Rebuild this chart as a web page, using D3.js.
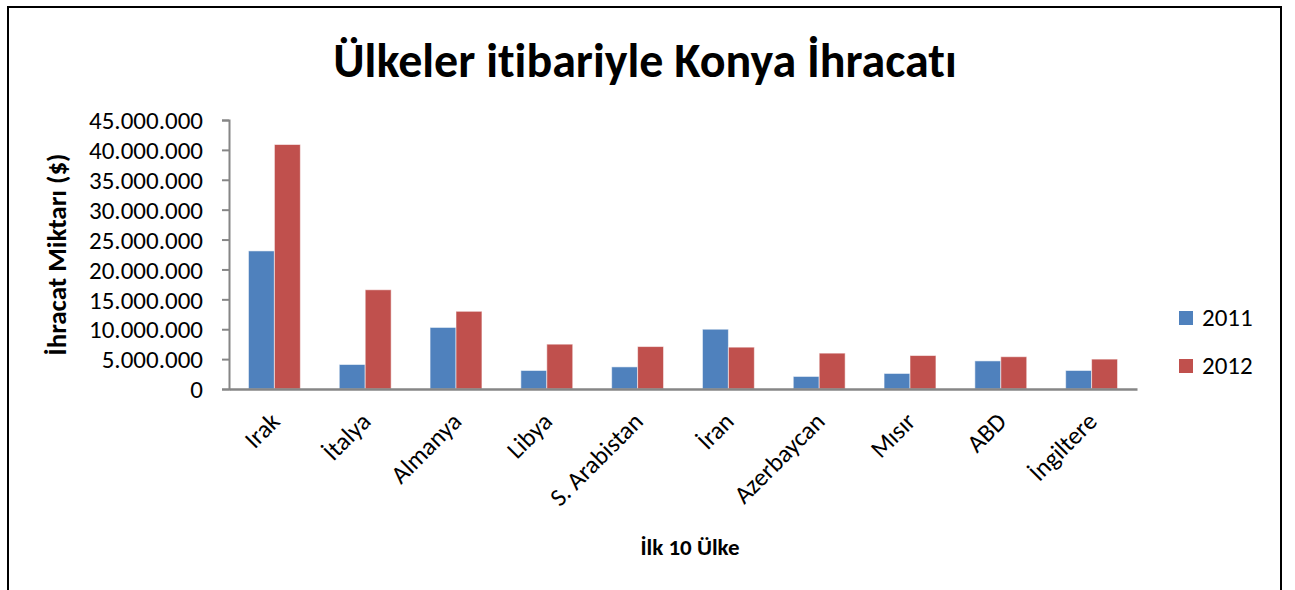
<!DOCTYPE html>
<html>
<head>
<meta charset="utf-8">
<script src="https://cdn.jsdelivr.net/npm/d3@7"></script>
<style>
  html, body { margin: 0; padding: 0; background: #fff; }
  svg { display: block; }
  text { font-family: Carlito, Lato, "Open Sans", sans-serif; fill: #000; font-variant-ligatures: none; font-feature-settings: "liga" 0; }
</style>
</head>
<body>
<svg id="chart" width="1295" height="590"></svg>
<script>
const categories = ["Irak", "İtalya", "Almanya", "Libya", "S. Arabistan", "İran", "Azerbaycan", "Mısır", "ABD", "İngiltere"];
const seriesNames = ["2011", "2012"];
const values2011 = [23100000, 4100000, 10300000, 3100000, 3700000, 10000000, 2100000, 2600000, 4700000, 3100000];
const values2012 = [40900000, 16600000, 13000000, 7500000, 7100000, 7000000, 6000000, 5600000, 5400000, 5000000];
const yTicks = [0, 5000000, 10000000, 15000000, 20000000, 25000000, 30000000, 35000000, 40000000, 45000000];
const colors = ["#4F81BD", "#C0504D"];
const titleText = "Ülkeler itibariyle Konya İhracatı";
const yTitle = "İhracat Miktarı ($)";
const xTitle = "İlk 10 Ülke";

const svg = d3.select("#chart");

// outer frame
svg.append("rect").attr("x", 8).attr("y", 7).attr("width", 1273).attr("height", 600)
  .attr("fill", "none").attr("stroke", "#000").attr("stroke-width", 2);

const plotLeft = 229, plotRight = 1137, plotTop = 120, plotBottom = 389;

const x = d3.scaleBand().domain(categories).range([plotLeft, plotRight]).paddingInner(0).paddingOuter(0);
const x1 = d3.scaleBand().domain(seriesNames).range([0, x.bandwidth()]).paddingInner(0).paddingOuter(0.75);
const y = d3.scaleLinear().domain([0, 45000000]).range([plotBottom, plotTop]);

const tr = d3.formatLocale({decimal: ",", thousands: ".", grouping: [3], currency: ["", "$"]});
const fmt = tr.format(",d");

// bars
const rows = categories.map((c, i) => ({cat: c, vals: [values2011[i], values2012[i]]}));
const g = svg.append("g");
rows.forEach(r => {
  r.vals.forEach((v, si) => {
    g.append("rect")
      .attr("x", x(r.cat) + x1(seriesNames[si]))
      .attr("y", y(v))
      .attr("width", x1.bandwidth())
      .attr("height", y(0) - y(v))
      .attr("fill", colors[si])
      .attr("stroke", "rgba(255,255,255,0.55)")
      .attr("stroke-width", 1);
  });
});

// y axis
const yAxis = d3.axisLeft(y).tickValues(yTicks).tickFormat(fmt).tickSize(7).tickPadding(19);
const ya = svg.append("g").attr("transform", `translate(${plotLeft},0)`).call(yAxis);
ya.select(".domain").attr("stroke", "#868686").attr("stroke-width", 2);
ya.selectAll(".tick line").attr("stroke", "#868686").attr("stroke-width", 2);
ya.selectAll(".tick text").attr("font-size", 25).attr("font-family", "Carlito, Lato, sans-serif").attr("fill", "#000").attr("dy", "0.35em");

// x axis
const xAxis = d3.axisBottom(x).tickSize(0).tickFormat(d => d);
const xa = svg.append("g").attr("transform", `translate(0,${plotBottom})`).call(xAxis);
xa.select(".domain").attr("stroke", "#868686").attr("stroke-width", 2.5);
xa.selectAll(".tick text")
  .attr("font-size", 25).attr("font-family", "Carlito, Lato, sans-serif").attr("fill", "#000")
  .attr("text-anchor", "end")
  .attr("x", 0).attr("y", 0).attr("dy", 0)
  .attr("transform", "translate(7,34) rotate(-45)");

// title
svg.append("text").attr("x", 645).attr("y", 77).attr("text-anchor", "middle")
  .attr("font-size", 48).attr("font-weight", "bold").text(titleText);

// axis titles
svg.append("text").attr("transform", `translate(66,${(plotTop + plotBottom) / 2}) rotate(-90)`)
  .attr("text-anchor", "middle").attr("font-size", 27).attr("font-weight", "bold").text(yTitle);
svg.append("text").attr("x", (plotLeft + plotRight) / 2 + 7).attr("y", 555).attr("text-anchor", "middle")
  .attr("font-size", 23).attr("font-weight", "bold").text(xTitle);

// legend
const lg = svg.append("g");
seriesNames.forEach((s, i) => {
  const yy = 311 + i * 48;
  lg.append("rect").attr("x", 1179).attr("y", yy).attr("width", 14).attr("height", 14).attr("fill", colors[i]);
  lg.append("text").attr("x", 1202).attr("y", yy + 15).attr("font-size", 25).text(s);
});
</script>
</body>
</html>
